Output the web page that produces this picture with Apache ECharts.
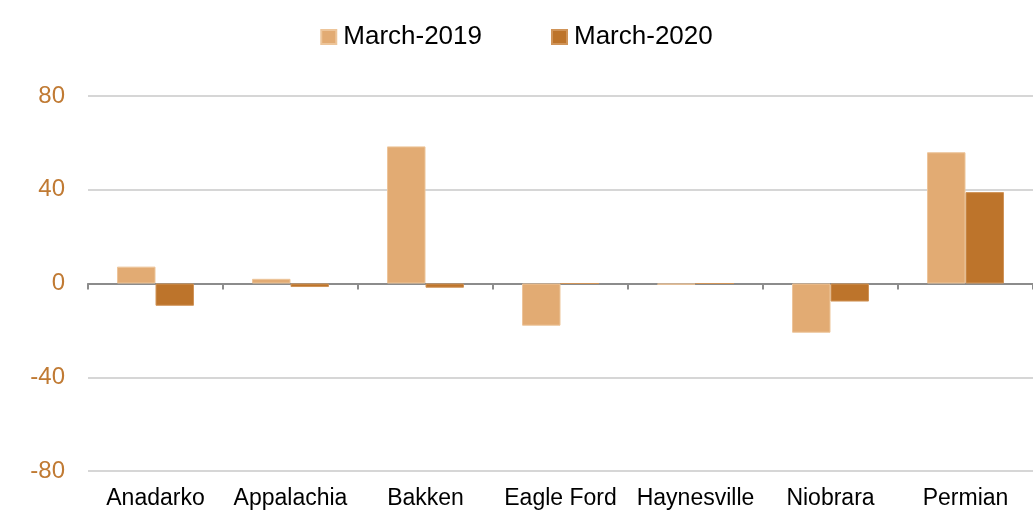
<!DOCTYPE html>
<html><head><meta charset="utf-8">
<script src="https://cdn.jsdelivr.net/npm/echarts@6/dist/echarts.min.js"></script>
<style>html,body{margin:0;padding:0;background:#fff}#c{width:1033px;height:514px}</style>
</head><body><div id="c"></div>
<script>
const categories = ['Anadarko','Appalachia','Bakken','Eagle Ford','Haynesville','Niobrara','Permian'];
const march2019 = [7.2, 2, 58.5, -18, -0.5, -21, 56];
const march2020 = [-9.5, -1.5, -1.8, 0, 0, -7.7, 39];
const yTicks = [-80, -40, 0, 40, 80];

const chart = echarts.init(document.getElementById('c'));
const font = 'Liberation Sans, Arial, sans-serif';
chart.setOption({
  animation: false,
  legend: {
    top: 19, left: 'center', itemWidth: 15, itemHeight: 14, itemGap: 69,
    icon: 'rect',
    textStyle: {fontFamily: font, fontSize: 26, color: '#000', padding: [0,0,0,2]},
    data: ['March-2019','March-2020']
  },
  grid: {left: 88, right: 0, top: 96, bottom: 43},
  xAxis: [{
    type: 'category', data: categories, position: 'bottom',
    axisLine: {onZero: true, lineStyle: {color: '#8c8c8c', width: 2}},
    axisTick: {show: true, length: 6, lineStyle: {color: '#8c8c8c', width: 2}},
    axisLabel: {show: false}
  },{
    type: 'category', data: categories, position: 'bottom',
    axisLine: {show: false, onZero: false},
    axisTick: {show: false},
    axisLabel: {show: true, fontFamily: font, fontSize: 23, color: '#000', margin: 16, interval: 0}
  }],
  yAxis: {
    type: 'value', min: yTicks[0], max: yTicks[yTicks.length-1], interval: 40,
    axisLine: {show: false}, axisTick: {show: false},
    axisLabel: {fontFamily: font, fontSize: 24, color: '#C07A33', margin: 23},
    splitLine: {lineStyle: {color: '#c8c8c8', width: 1.5}}
  },
  series: [{
    name: 'March-2019', type: 'bar', data: march2019, xAxisIndex: 0,
    barWidth: '28.5%', barGap: '0%',
    itemStyle: {color: '#E2AB73', borderColor: '#EDC59A', borderWidth: 1}
  },{
    name: 'March-2020', type: 'bar', data: march2020, xAxisIndex: 0,
    barWidth: '28.5%', barGap: '0%',
    itemStyle: {color: '#BD742B', borderColor: '#D09458', borderWidth: 1}
  }]
});
</script></body></html>
